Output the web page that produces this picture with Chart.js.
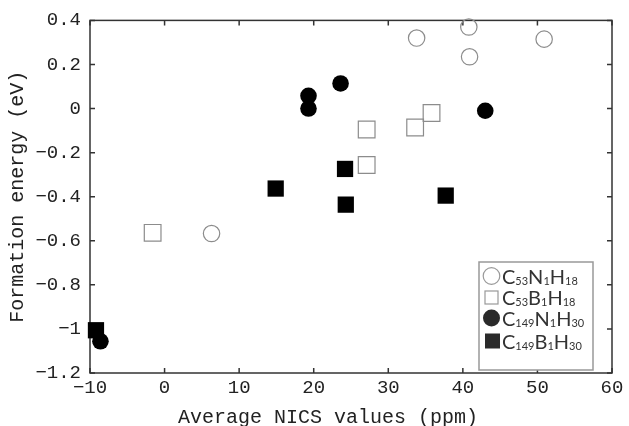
<!DOCTYPE html>
<html>
<head>
<meta charset="utf-8">
<script src="https://cdn.jsdelivr.net/npm/chart.js@4/dist/chart.umd.min.js"></script>
<style>
  body { margin: 0; background: #fff; }
  canvas { display: block; }
</style>
</head>
<body>
<canvas id="nicsChart" width="629" height="426"></canvas>
<script>
// Values
const c53nX = [33.8, 40.8, 40.9, 50.9, 6.3];
const c53nY = [0.32, 0.37, 0.235, 0.315, -0.567];
const c53bX = [-1.6, 27.1, 27.1, 33.6, 35.8];
const c53bY = [-0.564, -0.256, -0.095, -0.086, -0.02];
const c149nX = [19.3, 19.3, 23.6, 43.0, -8.6];
const c149nY = [0.058, 0.0, 0.114, -0.01, -1.056];
const c149bX = [-9.2, 14.9, 24.2, 24.3, 37.7];
const c149bY = [-1.006, -0.363, -0.274, -0.436, -0.395];

const xTitle = 'Average NICS values (ppm)';
const yTitle = 'Formation energy (eV)';

// legend names as [text, isSubscript] pieces
const legendNames = [
    [['C', 0], ['53', 1], ['N', 0], ['1', 1], ['H', 0], ['18', 1]],
    [['C', 0], ['53', 1], ['B', 0], ['1', 1], ['H', 0], ['18', 1]],
    [['C', 0], ['149', 1], ['N', 0], ['1', 1], ['H', 0], ['30', 1]],
    [['C', 0], ['149', 1], ['B', 0], ['1', 1], ['H', 0], ['30', 1]]
];

const mono = 'Liberation Mono, Courier New, monospace';

function toPoints(xs, ys) {
    return xs.map((v, i) => ({ x: v, y: ys[i] }));
}

function fmt(val) {
    const v = Math.round(val * 10) / 10;
    const s = String(Math.abs(v));
    return v < 0 ? '\u2212' + s : s;
}

// frame with inward ticks, x title and the legend box
const framePlugin = {
    id: 'frame',
    beforeDatasetsDraw(chart) {
        const { ctx, chartArea: a, scales: { x, y } } = chart;
        ctx.save();
        ctx.strokeStyle = '#333';
        ctx.lineWidth = 1.5;
        ctx.strokeRect(a.left, a.top, a.right - a.left, a.bottom - a.top);
        ctx.beginPath();
        x.ticks.forEach(t => {
            const px = x.getPixelForValue(t.value);
            ctx.moveTo(px, a.bottom); ctx.lineTo(px, a.bottom - 5);
            ctx.moveTo(px, a.top); ctx.lineTo(px, a.top + 5);
        });
        y.ticks.forEach(t => {
            const py = y.getPixelForValue(t.value);
            ctx.moveTo(a.left, py); ctx.lineTo(a.left + 5, py);
            ctx.moveTo(a.right, py); ctx.lineTo(a.right - 5, py);
        });
        ctx.stroke();
        ctx.restore();
    },
    afterDraw(chart) {
        const { ctx, chartArea: a } = chart;
        ctx.save();
        // x title (sits a little left of centre in the original)
        ctx.font = '20px ' + mono;
        ctx.fillStyle = '#222';
        ctx.textAlign = 'center';
        ctx.textBaseline = 'alphabetic';
        ctx.fillText(xTitle, (a.left + a.right) / 2 - 23, 423);

        // legend
        const bx = a.right - 133, by = a.bottom - 111, bw = 114, bh = 108;
        ctx.fillStyle = '#fff';
        ctx.fillRect(bx, by, bw, bh);
        ctx.strokeStyle = '#999';
        ctx.lineWidth = 1.5;
        ctx.strokeRect(bx, by, bw, bh);

        const mx = bx + 12.5;
        const rows = [by + 14, by + 35.5, by + 56, by + 79];
        // markers
        ctx.lineWidth = 1.2;
        ctx.strokeStyle = '#999';
        ctx.beginPath(); ctx.arc(mx, rows[0], 8.3, 0, Math.PI * 2); ctx.stroke();
        ctx.strokeRect(mx - 6.5, rows[1] - 6.5, 13, 13);
        ctx.fillStyle = '#2a2a2a';
        ctx.beginPath(); ctx.arc(mx, rows[2], 8.5, 0, Math.PI * 2); ctx.fill();
        ctx.fillRect(mx - 6.5, rows[3] - 7.5, 15, 15);

        // names with subscripts
        ctx.textAlign = 'left';
        ctx.fillStyle = '#333';
        legendNames.forEach((parts, i) => {
            let tx = bx + 23;
            parts.forEach(([txt, sub]) => {
                ctx.font = sub ? '11px Lato, sans-serif' : '20px Lato, sans-serif';
                ctx.fillText(txt, tx, rows[i] + (sub ? 8.5 : 7.5));
                tx += ctx.measureText(txt).width;
            });
        });
        ctx.restore();
    }
};

const openStyle = {
    backgroundColor: 'rgba(255,255,255,0)',
    borderColor: '#8c8c8c',
    borderWidth: 1.2
};
const fillStyle = {
    backgroundColor: '#000',
    borderColor: '#000',
    borderWidth: 0
};

new Chart(document.getElementById('nicsChart'), {
    type: 'scatter',
    data: {
        datasets: [
            Object.assign({ label: 'C53N1H18', data: toPoints(c53nX, c53nY), pointStyle: 'circle', pointRadius: 8.2, clip: false }, openStyle),
            Object.assign({ label: 'C53B1H18', data: toPoints(c53bX, c53bY), pointStyle: 'rect', pointRadius: 11.8, clip: false }, openStyle),
            Object.assign({ label: 'C149B1H30', data: toPoints(c149bX, c149bY), pointStyle: 'rect', pointRadius: 11.5, clip: false }, fillStyle),
            Object.assign({ label: 'C149N1H30', data: toPoints(c149nX, c149nY), pointStyle: 'circle', pointRadius: 8.3, clip: false }, fillStyle)
        ]
    },
    options: {
        responsive: false,
        animation: false,
        devicePixelRatio: 1,
        layout: { padding: { top: 19.5, right: 17, left: 0, bottom: 0 } },
        plugins: {
            legend: { display: false },
            tooltip: { enabled: false }
        },
        scales: {
            x: {
                type: 'linear',
                min: -10,
                max: 60,
                grid: { display: false, drawTicks: false, tickLength: 0 },
                border: { display: false },
                ticks: {
                    stepSize: 10,
                    padding: 4,
                    color: '#222',
                    font: { family: mono, size: 19 },
                    maxRotation: 0,
                    callback: v => fmt(v)
                },
                afterFit: s => { s.height = 53; }
            },
            y: {
                type: 'linear',
                min: -1.2,
                max: 0.4,
                grid: { display: false, drawTicks: false, tickLength: 0 },
                border: { display: false },
                title: {
                    display: true,
                    text: yTitle,
                    color: '#222',
                    font: { family: mono, size: 20 },
                    padding: { top: 6, bottom: 0 }
                },
                ticks: {
                    stepSize: 0.2,
                    padding: 9,
                    color: '#222',
                    font: { family: mono, size: 19 },
                    callback: v => fmt(v)
                },
                afterFit: s => { s.width = 90; }
            }
        }
    },
    plugins: [framePlugin]
});
</script>
</body>
</html>
